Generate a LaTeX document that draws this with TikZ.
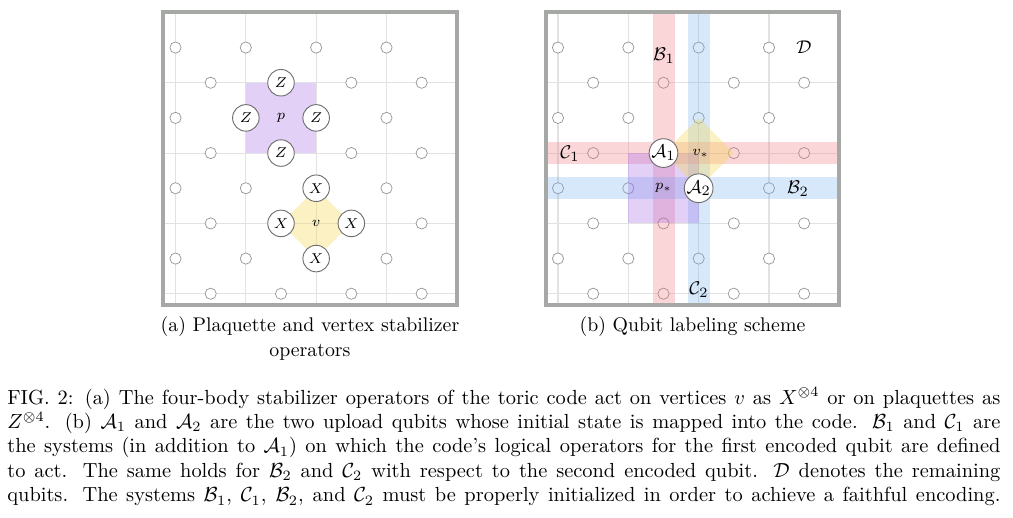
\documentclass[tikz,border=0pt]{standalone}
\usepackage{amsmath,amssymb}
\definecolor{framegray}{RGB}{166,168,166}
\definecolor{gridgray}{RGB}{226,226,226}
\definecolor{qgray}{RGB}{150,150,150}
\definecolor{opgray}{RGB}{110,110,110}
\definecolor{plaqc}{RGB}{160,100,230}
\definecolor{vertc}{RGB}{245,215,80}
\definecolor{redc}{RGB}{240,120,130}
\definecolor{bluec}{RGB}{120,180,240}
\tikzset{
  gridline/.style={draw=gridgray,line width=0.5pt},
  frameline/.style={draw=framegray,line width=2pt},
  qubit/.style={circle,draw=qgray,fill=white,line width=0.35pt,inner sep=0pt,minimum size=5.5pt},
  opq/.style={circle,draw=opgray,fill=white,line width=0.45pt,inner sep=0pt,minimum size=13pt,font=\fontsize{7.4}{8}\selectfont},
  bigq/.style={circle,draw=opgray,fill=white,line width=0.45pt,inner sep=0pt,minimum size=13pt,font=\fontsize{9.4}{10}\selectfont},
  smalllab/.style={inner sep=0pt,font=\fontsize{6.6}{7}\selectfont},
  setlab/.style={inner sep=0pt,font=\fontsize{9.4}{10}\selectfont},
  plaqfill/.style={fill=plaqc,fill opacity=0.3},
  vertfill/.style={fill=vertc,fill opacity=0.35},
  redband/.style={fill=redc,fill opacity=0.3},
  blueband/.style={fill=bluec,fill opacity=0.3},
}
\def\yt{12.4}
\def\yb{304.7}
\def\dd{70.33}
\newcommand\latticepanel[2]{%
  \foreach \i in {0,1,2,3}{
    \draw[gridline] ({#1+\i*\dd},\yt) -- ({#1+\i*\dd},\yb);
    \draw[gridline] ({#1-12.2},{\yt+(\i+1)*\dd}) -- ({#1+4*\dd},{\yt+(\i+1)*\dd});
  }
  \foreach \i in {0,1,2,3}{
    \foreach \j in {0,1,2,3}{
      \node[qubit] (#2v\i\j) at ({#1+\i*\dd},{\yt+(\j+0.5)*\dd}) {};
      \node[qubit] (#2h\i\j) at ({#1+(\i+0.5)*\dd},{\yt+(\j+1)*\dd}) {};
    }
  }
}
\begin{document}
\begin{tikzpicture}[x=0.49pt,y=-0.49pt]
\useasboundingbox (0,0) rectangle (1013,517);
% ---------- panel (a)
\def\xa{175.5}
\latticepanel{\xa}{a}
\path[plaqfill] ({\xa+\dd},{\yt+\dd}) rectangle ({\xa+2*\dd},{\yt+2*\dd});
\path[vertfill] ({\xa+1.5*\dd},{\yt+3*\dd}) -- ({\xa+2*\dd},{\yt+2.5*\dd}) -- ({\xa+2.5*\dd},{\yt+3*\dd}) -- ({\xa+2*\dd},{\yt+3.5*\dd}) -- cycle;
\node[smalllab] (plab) at ({\xa+1.5*\dd},{\yt+1.5*\dd}) {$p$};
\node[smalllab] (vlab) at ({\xa+2*\dd},{\yt+3*\dd}) {$v$};
\node[opq] (z1) at ({\xa+1.5*\dd},{\yt+\dd}) {$Z$};
\node[opq] (z2) at ({\xa+\dd},{\yt+1.5*\dd}) {$Z$};
\node[opq] (z3) at ({\xa+2*\dd},{\yt+1.5*\dd}) {$Z$};
\node[opq] (z4) at ({\xa+1.5*\dd},{\yt+2*\dd}) {$Z$};
\node[opq] (x1) at ({\xa+2*\dd},{\yt+2.5*\dd}) {$X$};
\node[opq] (x2) at ({\xa+1.5*\dd},{\yt+3*\dd}) {$X$};
\node[opq] (x3) at ({\xa+2.5*\dd},{\yt+3*\dd}) {$X$};
\node[opq] (x4) at ({\xa+2*\dd},{\yt+3.5*\dd}) {$X$};
\draw[frameline] ({\xa-12.2},\yt) rectangle ({\xa+4*\dd},\yb);
% ---------- panel (b)
\def\xb{558}
\latticepanel{\xb}{b}
\path[redband] ({\xb+1.5*\dd-11},\yt) rectangle ({\xb+1.5*\dd+11},\yb);
\path[blueband] ({\xb+2*\dd-11},\yt) rectangle ({\xb+2*\dd+11},\yb);
\path[redband] ({\xb-12.2},{\yt+2*\dd-11}) rectangle ({\xb+4*\dd},{\yt+2*\dd+11});
\path[blueband] ({\xb-12.2},{\yt+2.5*\dd-11}) rectangle ({\xb+4*\dd},{\yt+2.5*\dd+11});
\path[plaqfill] ({\xb+\dd},{\yt+2*\dd}) rectangle ({\xb+2*\dd},{\yt+3*\dd});
\path[vertfill] ({\xb+1.5*\dd},{\yt+2*\dd}) -- ({\xb+2*\dd},{\yt+1.5*\dd}) -- ({\xb+2.5*\dd},{\yt+2*\dd}) -- ({\xb+2*\dd},{\yt+2.5*\dd}) -- cycle;
\node[smalllab] (pslab) at ({\xb+1.5*\dd},{\yt+2.5*\dd}) {$p_*$};
\node[smalllab] (vslab) at ({\xb+2*\dd+2},{\yt+2*\dd}) {$v_*$};
\node[bigq] (A1) at ({\xb+1.5*\dd},{\yt+2*\dd}) {$\mathcal{A}_1$};
\node[bigq] (A2) at ({\xb+2*\dd},{\yt+2.5*\dd}) {$\mathcal{A}_2$};
\node[setlab] (B1) at (664,56) {$\mathcal{B}_1$};
\node[setlab] (Dl) at (804,47) {$\mathcal{D}$};
\node[setlab] (C1) at (570,154) {$\mathcal{C}_1$};
\node[setlab] (B2) at (798,189) {$\mathcal{B}_2$};
\node[setlab] (C2) at (699,290) {$\mathcal{C}_2$};
\draw[frameline] ({\xb-12.2},\yt) rectangle ({\xb+4*\dd},\yb);
% ---------- captions
\node[anchor=base,inner sep=0pt] (capa) at (310,331.7) {\parbox[t]{150pt}{\fontsize{9.7}{12.25}\selectfont\centering (a) Plaquette and vertex stabilizer\\ operators}};
\node[anchor=base,inner sep=0pt] (capb) at (692.5,331.7) {\parbox[t]{150pt}{\fontsize{9.7}{12.25}\selectfont\centering (b) Qubit labeling scheme}};
\node[anchor=base west,inner sep=0pt] (cap) at (7,404) {\parbox[t]{486.6pt}{\fontsize{10}{12}\selectfont
\makebox[\linewidth][s]{FIG. 2: (a) The four-body stabilizer operators of the toric code act on vertices $v$ as $X^{\otimes 4}$ or on plaquettes as}\\
\makebox[\linewidth][s]{$Z^{\otimes 4}$. (b) $\mathcal{A}_1$ and $\mathcal{A}_2$ are the two upload qubits whose initial state is mapped into the code. $\mathcal{B}_1$ and $\mathcal{C}_1$ are}\\
\makebox[\linewidth][s]{the systems (in addition to $\mathcal{A}_1$) on which the code's logical operators for the first encoded qubit are defined}\\
\makebox[\linewidth][s]{to act. The same holds for $\mathcal{B}_2$ and $\mathcal{C}_2$ with respect to the second encoded qubit. $\mathcal{D}$ denotes the remaining}\\
\makebox[\linewidth][s]{qubits. The systems $\mathcal{B}_1$, $\mathcal{C}_1$, $\mathcal{B}_2$, and $\mathcal{C}_2$ must be properly initialized in order to achieve a faithful encoding.}}};
\end{tikzpicture}
\end{document}
